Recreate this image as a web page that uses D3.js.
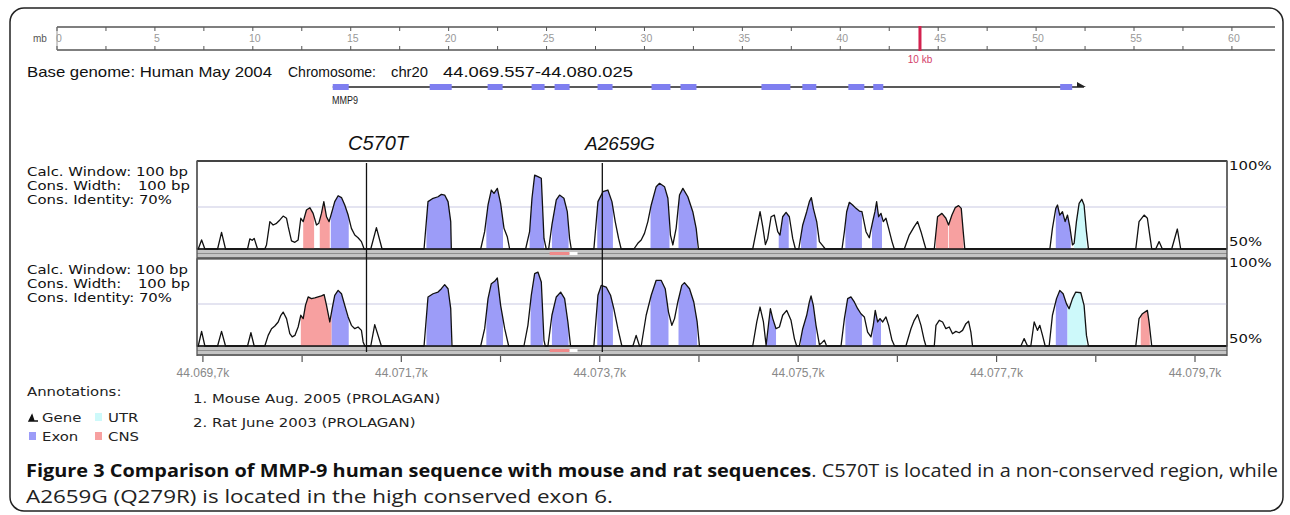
<!DOCTYPE html>
<html><head><meta charset="utf-8">
<script src="https://cdn.jsdelivr.net/npm/d3@7"></script>
<style>
html,body{margin:0;padding:0;background:#fff;}
svg{display:block;}
</style></head><body>
<svg id="c" width="1290" height="515"></svg>
<script>
// ---------------- DATA ----------------
// conservation profile, human vs mouse: [position (kb, chr20), % identity]
const mouse = [
[44069.645,50],
[44069.658,50],[44069.692,55.4],[44069.725,50],
[44069.853,50],[44069.893,59.9],[44069.933,50],
[44070.155,50],[44070.178,56.0],[44070.202,55.2],[44070.222,56.3],[44070.256,50],
[44070.329,50],[44070.346,52.4],[44070.380,66.3],[44070.413,64.3],[44070.447,65.3],[44070.481,67.3],[44070.514,69.6],[44070.548,68.3],[44070.565,63.3],[44070.598,54.8],[44070.632,54.0],[44070.665,55.4],[44070.692,68.3],[44070.716,66.3],[44070.749,73.2],[44070.783,74.6],[44070.816,71.2],[44070.850,64.3],[44070.873,65.3],[44070.900,71.2],[44070.924,78.2],[44070.951,69.2],[44070.977,66.3],[44071.001,71.2],[44071.034,78.2],[44071.068,81.7],[44071.102,80.6],[44071.135,76.2],[44071.169,70.2],[44071.202,62.3],[44071.236,58.3],[44071.269,56.7],[44071.303,54.4],[44071.330,50],
[44071.397,50],[44071.454,62.7],[44071.511,50],
[44071.934,50],[44071.974,78.2],[44072.025,80.2],[44072.075,81.1],[44072.109,82.5],[44072.142,82.1],[44072.176,78.2],[44072.203,66.3],[44072.209,50],
[44072.505,50],[44072.545,60.3],[44072.579,76.2],[44072.612,85.1],[44072.639,83.1],[44072.673,86.1],[44072.706,77.2],[44072.740,62.3],[44072.773,57.3],[44072.797,50],
[44072.958,50],[44072.998,60.3],[44073.022,80.2],[44073.049,94.0],[44073.082,93.1],[44073.116,92.1],[44073.143,56.3],[44073.166,50],
[44073.190,50],[44073.223,64.3],[44073.267,79.2],[44073.300,82.1],[44073.344,80.2],[44073.378,72.2],[44073.401,56.3],[44073.418,50],
[44073.646,50],[44073.687,78.2],[44073.737,84.1],[44073.787,85.1],[44073.828,78.2],[44073.861,66.3],[44073.895,56.3],[44073.921,50],
[44074.049,50],[44074.089,53.4],[44074.123,55.4],[44074.156,59.3],[44074.190,66.3],[44074.224,76.2],[44074.274,87.1],[44074.308,89.1],[44074.358,87.1],[44074.392,80.2],[44074.418,58.3],[44074.442,52.4],[44074.475,62.3],[44074.509,82.1],[44074.543,86.1],[44074.593,81.1],[44074.643,72.2],[44074.677,62.3],[44074.700,50],
[44075.247,50],[44075.288,62.3],[44075.321,72.2],[44075.348,63.3],[44075.375,52.6],[44075.398,56.3],[44075.432,69.2],[44075.465,70.2],[44075.499,60.3],[44075.522,58.3],[44075.549,69.2],[44075.583,71.8],[44075.616,69.2],[44075.650,56.3],[44075.677,50],
[44075.711,50],[44075.751,64.3],[44075.791,72.2],[44075.818,78.2],[44075.838,80.6],[44075.858,74.2],[44075.892,66.3],[44075.919,54.4],[44075.952,52.0],[44075.979,50],
[44076.147,50],[44076.171,60.3],[44076.194,72.2],[44076.221,77.8],[44076.254,76.2],[44076.288,74.2],[44076.322,72.6],[44076.348,72.2],[44076.389,60.3],[44076.422,56.7],[44076.456,66.3],[44076.479,72.2],[44076.496,78.2],[44076.516,69.2],[44076.540,71.2],[44076.563,66.3],[44076.590,68.3],[44076.617,62.3],[44076.651,54.4],[44076.674,50],
[44076.775,50],[44076.825,58.3],[44076.875,63.3],[44076.909,66.3],[44076.943,60.3],[44076.976,53.4],[44076.993,50],
[44077.077,50],[44077.110,69.2],[44077.154,71.2],[44077.194,68.3],[44077.221,64.3],[44077.255,70.2],[44077.288,74.6],[44077.322,75.8],[44077.349,74.2],[44077.369,60.3],[44077.385,50],
[44078.242,50],[44078.268,62.3],[44078.302,74.2],[44078.319,76.2],[44078.342,70.2],[44078.369,72.2],[44078.396,66.3],[44078.420,70.2],[44078.443,63.3],[44078.470,52.4],[44078.487,53.4],[44078.510,66.3],[44078.537,77.2],[44078.564,79.6],[44078.587,76.2],[44078.611,60.3],[44078.631,50],
[44079.108,50],[44079.141,66.3],[44079.192,70.2],[44079.225,68.3],[44079.249,58.3],[44079.269,50],
[44079.309,50],[44079.343,54.4],[44079.376,50],
[44079.470,50],[44079.527,61.9],[44079.561,50],
[44080.017,50]
];

// conservation profile, human vs rat
const rat = [
[44069.645,50],
[44069.658,50],[44069.692,58.7],[44069.725,50],
[44069.853,50],[44069.893,58.7],[44069.933,50],
[44070.155,50],[44070.189,57.9],[44070.222,50],
[44070.329,50],[44070.363,56.3],[44070.397,60.3],[44070.430,61.9],[44070.464,64.3],[44070.491,68.3],[44070.514,70.2],[44070.548,66.3],[44070.581,57.3],[44070.605,55.4],[44070.632,56.3],[44070.665,61.3],[44070.692,68.3],[44070.716,66.3],[44070.739,74.2],[44070.766,79.2],[44070.799,78.2],[44070.833,78.6],[44070.866,79.2],[44070.900,79.8],[44070.927,80.6],[44070.951,74.2],[44070.984,64.3],[44071.008,72.2],[44071.034,80.2],[44071.068,83.1],[44071.102,81.1],[44071.135,74.2],[44071.169,67.3],[44071.202,62.3],[44071.236,60.3],[44071.269,61.3],[44071.303,59.3],[44071.320,52.4],[44071.337,50],
[44071.397,50],[44071.437,62.7],[44071.504,50],
[44071.934,50],[44071.974,79.2],[44072.025,81.1],[44072.075,82.1],[44072.109,84.1],[44072.142,86.5],[44072.176,84.1],[44072.203,72.2],[44072.216,50],
[44072.505,50],[44072.545,60.3],[44072.579,78.2],[44072.612,87.1],[44072.646,88.5],[44072.673,90.5],[44072.706,74.2],[44072.747,60.3],[44072.787,50],
[44072.941,50],[44072.981,62.3],[44073.015,80.2],[44073.049,93.1],[44073.082,94.0],[44073.116,88.1],[44073.143,53.4],[44073.156,50],
[44073.183,50],[44073.223,68.3],[44073.267,79.2],[44073.311,82.1],[44073.351,78.2],[44073.384,64.3],[44073.411,50],
[44073.646,50],[44073.687,80.2],[44073.720,86.1],[44073.770,85.1],[44073.814,80.2],[44073.847,72.2],[44073.888,60.3],[44073.928,50],
[44074.039,50],[44074.072,56.3],[44074.106,50],
[44074.123,50],[44074.173,68.3],[44074.224,80.2],[44074.274,89.1],[44074.324,89.1],[44074.365,84.1],[44074.398,70.2],[44074.432,62.3],[44074.459,66.3],[44074.492,76.2],[44074.532,86.1],[44074.559,87.7],[44074.610,84.1],[44074.653,76.2],[44074.687,64.3],[44074.710,50],
[44075.247,50],[44075.288,64.3],[44075.321,73.2],[44075.355,64.3],[44075.382,50.4],[44075.409,64.3],[44075.425,72.2],[44075.449,66.3],[44075.482,60.3],[44075.516,61.3],[44075.549,68.3],[44075.590,71.2],[44075.633,65.3],[44075.667,54.4],[44075.690,50],
[44075.717,50],[44075.751,60.3],[44075.791,68.3],[44075.818,76.2],[44075.835,79.8],[44075.858,74.2],[44075.885,62.3],[44075.919,50.8],[44075.945,52.0],[44075.969,53.4],[44075.992,50],
[44076.137,50],[44076.171,66.3],[44076.204,78.2],[44076.237,79.2],[44076.271,76.2],[44076.305,72.2],[44076.338,69.2],[44076.372,67.3],[44076.405,58.3],[44076.439,55.4],[44076.462,62.3],[44076.482,71.2],[44076.506,64.3],[44076.530,66.3],[44076.557,64.3],[44076.590,67.3],[44076.617,62.3],[44076.651,53.4],[44076.677,50],
[44076.791,50],[44076.842,60.3],[44076.875,65.3],[44076.909,68.7],[44076.943,62.3],[44076.976,53.4],[44076.993,50],
[44077.077,50],[44077.094,62.3],[44077.127,65.3],[44077.161,64.3],[44077.194,60.3],[44077.228,61.3],[44077.261,57.3],[44077.295,58.7],[44077.328,57.9],[44077.362,59.3],[44077.396,63.3],[44077.423,64.7],[44077.446,58.3],[44077.463,50],
[44077.950,50],[44077.983,54.4],[44078.017,50],
[44078.050,50],[44078.084,64.3],[44078.117,59.3],[44078.141,62.3],[44078.168,56.3],[44078.195,50],
[44078.235,50],[44078.268,68.3],[44078.309,78.2],[44078.342,83.1],[44078.376,81.1],[44078.409,75.2],[44078.436,72.2],[44078.470,78.2],[44078.503,82.1],[44078.554,81.7],[44078.587,74.2],[44078.611,56.3],[44078.631,50],
[44079.108,50],[44079.141,66.3],[44079.175,69.2],[44079.225,71.2],[44079.242,64.3],[44079.269,50],
[44080.017,50]
];

// coloured (conserved) regions, [start kb, end kb]
const exonRegions1 = [[44070.994,44071.175],[44071.958,44072.209],[44072.562,44072.730],[44072.998,44073.143],[44073.223,44073.391],[44073.680,44073.838],[44074.217,44074.408],[44074.499,44074.687],[44075.509,44075.610],[44075.734,44075.892],[44076.181,44076.348],[44076.449,44076.550],[44078.302,44078.453]];
const cnsRegions1  = [[44070.716,44070.826],[44070.883,44070.984],[44077.094,44077.217],[44077.225,44077.372]];
const utrRegions1  = [[44078.487,44078.611]];
const exonRegions2 = [[44071.001,44071.175],[44071.958,44072.209],[44072.562,44072.730],[44073.008,44073.132],[44073.223,44073.391],[44073.680,44073.838],[44074.217,44074.398],[44074.499,44074.687],[44075.388,44075.482],[44075.734,44075.885],[44076.181,44076.348],[44076.456,44076.540],[44078.302,44078.420]];
const cnsRegions2  = [[44070.692,44071.001],[44079.158,44079.249]];
const utrRegions2  = [[44078.420,44078.611]];
const bandMarks = [[44073.200,44073.401,"#f08a8a"],[44073.401,44073.481,"#ffffff"]];

// gene model (MMP9)
const geneSpan = [44071.014, 44078.586];
const geneExons = [[44071.014,44071.175],[44071.991,44072.213],[44072.575,44072.726],[44073.018,44073.149],[44073.250,44073.401],[44073.683,44073.834],[44074.227,44074.418],[44074.519,44074.680],[44075.335,44075.627],[44075.747,44075.888],[44076.211,44076.372],[44076.462,44076.563],[44078.346,44078.467]];

// variants
const variants = [{name:"C570T", pos:44071.354},{name:"A2659G", pos:44073.731}];

// axis
const axisTicks = [44069.7,44070.7,44071.7,44072.7,44073.7,44074.7,44075.7,44076.7,44077.7,44078.7,44079.7];
const axisLabelVals = [44069.7,44071.7,44073.7,44075.7,44077.7,44079.7];
const axisLabels = ["44.069,7k","44.071,7k","44.073,7k","44.075,7k","44.077,7k","44.079,7k"];

// chromosome ruler (Mb)
const rulerMinor = [0,2.5,5,7.5,10,12.5,15,17.5,20,22.5,25,27.5,30,32.5,35,37.5,40,42.5,45,47.5,50,52.5,55,57.5,60];
const rulerLabels = [0,5,10,15,20,25,30,35,40,45,50,55,60];
const rulerMarker = 44.07;

const headerTexts = ["Base genome: Human May 2004","Chromosome:","chr20","44.069.557-44.080.025"];
const seriesNames = ["1. Mouse Aug. 2005 (PROLAGAN)","2. Rat June 2003 (PROLAGAN)"];
const captionBold = "Figure 3 Comparison of MMP-9 human sequence with mouse and rat sequences";
const captionRest = ". C570T is located in a non-conserved region, while";
const captionLine2 = "A2659G (Q279R) is located in the high conserved exon 6.";

// ---------------- DRAW ----------------
const C = {exon:"#9c9cf8", cns:"#f7a0a0", utr:"#cdf9fa", geneExon:"#7f7ff0"};
const F = "Liberation Sans, Arial, sans-serif";
const F2 = "DejaVu Sans, Verdana, sans-serif";
const svg = d3.select("#c");

function fit(sel, w){
  const n = sel.node(); const cur = n.getComputedTextLength();
  const fs = parseFloat(sel.attr("font-size"));
  sel.attr("font-size", (fs*w/cur).toFixed(2));
  return fs*w/cur;
}
function stretchTo(sel, w){ sel.attr("textLength", w.toFixed(1)).attr("lengthAdjust","spacingAndGlyphs"); }
function stretchBy(sel, s){ stretchTo(sel, sel.node().getComputedTextLength()*s); }

// frame
svg.append("rect").attr("x",10).attr("y",8).attr("width",1273).attr("height",503)
  .attr("rx",14).attr("fill","none").attr("stroke","#222").attr("stroke-width",1.5);

const x = d3.scaleLinear().domain([44069.7,44079.7]).range([202.4,1194.5]);
const plotL = 197, plotR = 1227;

// ruler
const rx = d3.scaleLinear().domain([0,62.2]).range([57,1275]);
const rg = svg.append("g");
rg.append("line").attr("x1",rx(0)).attr("x2",rx(62.2)).attr("y1",27).attr("y2",27).attr("stroke","#555").attr("stroke-width",1.6);
rg.append("line").attr("x1",rx(0)).attr("x2",rx(62.2)).attr("y1",50).attr("y2",50).attr("stroke","#555").attr("stroke-width",1.6);
rg.append("line").attr("x1",rx(0)).attr("x2",rx(0)).attr("y1",27).attr("y2",50).attr("stroke","#999").attr("stroke-width",1);
rg.selectAll(".rt1").data(rulerMinor).enter().append("line")
  .attr("x1",d=>rx(d)).attr("x2",d=>rx(d)).attr("y1",27).attr("y2",31).attr("stroke","#555");
rg.selectAll(".rt2").data(rulerMinor).enter().append("line")
  .attr("x1",d=>rx(d)).attr("x2",d=>rx(d)).attr("y1",46).attr("y2",50).attr("stroke","#555");
rg.selectAll(".rl").data(rulerLabels).enter().append("text")
  .attr("x",d=>rx(d)+2).attr("y",42).attr("text-anchor","middle").attr("font-family",F)
  .attr("font-size",10.5).attr("fill","#999").text(d=>d);
rg.append("text").attr("x",33).attr("y",42).attr("font-family",F).attr("font-size",10).attr("fill","#555").text("mb");
rg.append("rect").attr("x",rx(rulerMarker)-1.5).attr("y",26).attr("width",3).attr("height",25).attr("fill","#d3224f");
rg.append("text").attr("x",rx(rulerMarker)).attr("y",63).attr("text-anchor","middle").attr("font-family",F)
  .attr("font-size",10).attr("fill","#d3406a").text("10 kb");

// header
const hx = [27,288,391,443], hw = [245,88,37,190];
headerTexts.forEach((t,i)=>{
  const s = svg.append("text").attr("x",hx[i]).attr("y",77).attr("font-family",F).attr("font-size",15).attr("fill","#111").text(t);
  stretchTo(s, hw[i]);
});

// gene model
const gy = 87;
svg.append("line").attr("x1",x(geneSpan[0])).attr("x2",x(geneSpan[1])).attr("y1",gy).attr("y2",gy).attr("stroke","#222").attr("stroke-width",1.5);
svg.append("path").attr("d",`M${x(geneSpan[1])-7},${gy-5}L${x(geneSpan[1])+2},${gy}L${x(geneSpan[1])-7},${gy}Z`).attr("fill","#222");
svg.selectAll(".gex").data(geneExons).enter().append("rect")
  .attr("x",d=>x(d[0])).attr("width",d=>x(d[1])-x(d[0])).attr("y",gy-3).attr("height",6).attr("fill",C.geneExon);
const mm = svg.append("text").attr("x",332).attr("y",104).attr("font-family",F).attr("font-size",11).attr("fill","#222").text("MMP9");
stretchTo(mm,26);

// variant labels
variants.forEach((v,i)=>{
  const t = svg.append("text").attr("x",[348,585][i]).attr("y",150).attr("font-family",F).attr("font-style","italic")
    .attr("font-size",18).attr("fill","#111").text(v.name);
  fit(t,[60,70][i]);
});

// label font: DejaVu 12.5px stretched horizontally to the reference width
const probe = svg.append("text").attr("font-family",F2).attr("font-size",12.5).text("Calc. Window: 100 bp");
const SX = 161/probe.node().getComputedTextLength();
probe.remove();
function lab(g, x0, y0, t, anchor){
  const s = g.append("text").attr("x",x0).attr("y",y0).attr("font-family",F2).attr("font-size",12.5)
    .attr("fill","#111").attr("text-anchor",anchor||"start").text(t);
  stretchBy(s, SX); return s;
}

// panels
const panels = [
  {data:mouse, exon:exonRegions1, cns:cnsRegions1, utr:utrRegions1, top:161, y100:165, y50:249, ly:176},
  {data:rat,   exon:exonRegions2, cns:cnsRegions2, utr:utrRegions2, top:259, y100:262, y50:346, ly:274}
];
panels.forEach((p,pi)=>{
  const g = svg.append("g");
  const y = d3.scaleLinear().domain([50,100]).range([p.y50,p.y100]);
  g.append("rect").attr("x",plotL).attr("y",p.top).attr("width",plotR-plotL).attr("height",p.y50-p.top)
    .attr("fill","#fff").attr("stroke","#555").attr("stroke-width",1.3);
  if(pi===0) g.append("line").attr("x1",plotL).attr("x2",plotR).attr("y1",p.top).attr("y2",p.top).attr("stroke","#444").attr("stroke-width",2.2);
  g.append("line").attr("x1",plotL).attr("x2",plotR).attr("y1",y(75)).attr("y2",y(75)).attr("stroke","#c9c9e2").attr("stroke-width",1);
  const area = d3.area().x(d=>x(d[0])).y0(y(50)).y1(d=>y(Math.max(50,d[1])));
  const line = d3.line().x(d=>x(d[0])).y(d=>y(Math.max(50,d[1])));
  const regs = [].concat(p.exon.map(r=>[r,C.exon]), p.cns.map(r=>[r,C.cns]), p.utr.map(r=>[r,C.utr]));
  regs.forEach((rc,ri)=>{
    const id = `clip${pi}_${ri}`;
    svg.append("clipPath").attr("id",id).append("rect")
      .attr("x",x(rc[0][0])).attr("width",x(rc[0][1])-x(rc[0][0])).attr("y",p.top).attr("height",p.y50-p.top);
    g.append("path").datum(p.data).attr("d",area).attr("fill",rc[1]).attr("clip-path",`url(#${id})`);
  });
  g.append("path").datum(p.data).attr("d",line).attr("fill","none").attr("stroke","#111").attr("stroke-width",1.3).attr("stroke-linejoin","round");
  // baseline + band
  g.append("rect").attr("x",plotL).attr("y",p.y50+1).attr("width",plotR-plotL).attr("height",9).attr("fill","#c4c4c4");
  g.append("line").attr("x1",plotL).attr("x2",plotR).attr("y1",p.y50+4.5).attr("y2",p.y50+4.5).attr("stroke","#8e8e8e").attr("stroke-width",1);
  g.selectAll(".bm").data(bandMarks).enter().append("rect")
    .attr("x",d=>x(d[0])).attr("width",d=>x(d[1])-x(d[0])).attr("y",p.y50+3).attr("height",3).attr("fill",d=>d[2]);
  g.append("line").attr("x1",plotL).attr("x2",plotR).attr("y1",p.y50+9).attr("y2",p.y50+9).attr("stroke","#6a6a6a").attr("stroke-width",2);
  g.append("line").attr("x1",plotL).attr("x2",plotR).attr("y1",p.y50).attr("y2",p.y50).attr("stroke","#111").attr("stroke-width",1.6);
  g.append("line").attr("x1",plotL).attr("x2",plotL).attr("y1",p.top).attr("y2",p.y50+10).attr("stroke","#555").attr("stroke-width",1.3);
  g.append("line").attr("x1",plotR).attr("x2",plotR).attr("y1",p.top).attr("y2",p.y50+10).attr("stroke","#555").attr("stroke-width",1.3);
  // left labels
  lab(g,27,p.ly,"Calc. Window: 100 bp");
  lab(g,27,p.ly+14,"Cons. Width:");
  lab(g,190,p.ly+14,"100 bp","end");
  lab(g,27,p.ly+28,"Cons. Identity: 70%");
  // right labels
  lab(g,1229,y(100)+5,"100%");
  lab(g,1229,y(55)+5,"50%");
});

// variant lines
svg.selectAll(".vl").data(variants).enter().append("line")
  .attr("x1",d=>x(d.pos)).attr("x2",d=>x(d.pos)).attr("y1",163).attr("y2",352).attr("stroke","#111").attr("stroke-width",1.3);

// x axis
const labelMap = new Map(axisLabelVals.map((v,i)=>[v,axisLabels[i]]));
const ax = svg.append("g").attr("transform","translate(0,356)")
  .call(d3.axisBottom(x).tickValues(axisTicks).tickSize(6).tickPadding(6).tickFormat(d=>labelMap.get(d)||""));
ax.select(".domain").remove();
ax.selectAll(".tick line").attr("stroke","#555").attr("stroke-width",1.2);
ax.selectAll(".tick text").attr("font-family",F).attr("font-size",12).attr("fill","#888");

// legend
const lg = svg.append("g");
lab(lg,27,396,"Annotations:").attr("fill","#222");
const legItems = [
  {label:"Gene", x:42, y:422, sw:null},
  {label:"UTR",  x:108,y:422, sw:C.utr, sx:95},
  {label:"Exon", x:42, y:441, sw:C.exon, sx:29},
  {label:"CNS",  x:108,y:441, sw:C.cns, sx:95}
];
legItems.forEach(d=>{
  lab(lg,d.x,d.y,d.label).attr("fill","#222");
  if(d.sw) lg.append("rect").attr("x",d.sx).attr("y",d.y-9).attr("width",7).attr("height",8).attr("fill",d.sw);
});
lg.append("path").attr("d","M29,421L38,421M29,421L32,415L34,421Z").attr("stroke","#111").attr("stroke-width",1.4).attr("fill","#111");
seriesNames.forEach((s,i)=>{ lab(lg,193,403+i*24,s).attr("fill","#222"); });

// caption: both lines stretched to the reference extents
const CF = "Open Sans, Noto Sans, sans-serif";
const cs = 18.5;
const cap = svg.append("text").attr("x",26).attr("y",477).attr("font-family",CF).attr("font-size",cs).attr("fill","#222");
cap.append("tspan").attr("font-weight","bold").attr("fill","#111").text(captionBold);
cap.append("tspan").text(captionRest);
stretchTo(cap, 1252);
const l2 = svg.append("text").attr("x",26).attr("y",503).attr("font-family",CF).attr("font-size",cs).attr("fill","#222")
  .text(captionLine2);
stretchTo(l2, 587);
</script>
</body></html>
